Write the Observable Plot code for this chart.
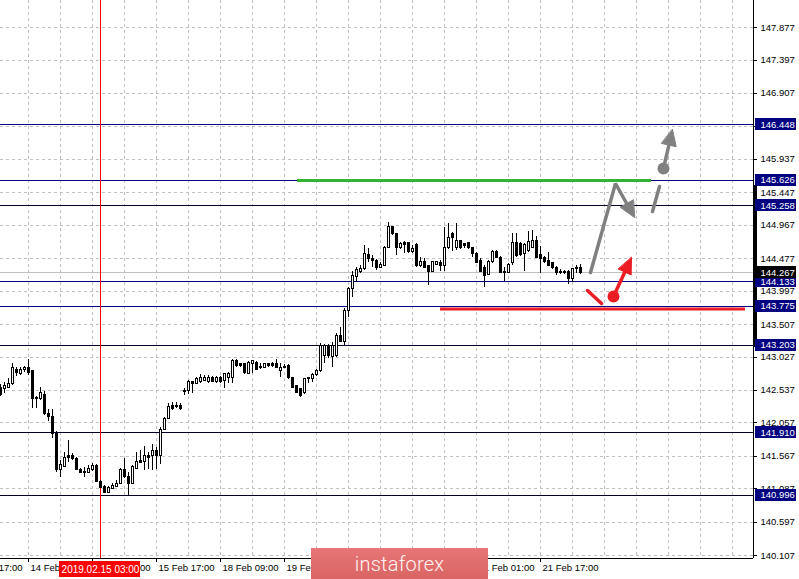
<!DOCTYPE html>
<html>
<head>
<meta charset="utf-8">
<script src="https://cdn.jsdelivr.net/npm/d3@7"></script>
<script src="https://cdn.jsdelivr.net/npm/@observablehq/plot@0.6"></script>
<style>
  html, body { margin: 0; padding: 0; background: #fff; }
  #wrap { position: relative; width: 799px; height: 579px; overflow: hidden; }
  #wrap svg { position: absolute; left: 0; top: 0; }
  #logo {
    position: absolute; left: 311px; top: 548px; width: 177px; height: 31px; z-index: 2;
    background: linear-gradient(#e87676, #d96464);
    color: #fff3f3; font: 300 20px Roboto, "Open Sans", sans-serif;
    display: flex; align-items: center; justify-content: center; letter-spacing: 0.2px;
  }
</style>
</head>
<body>
<div id="wrap"><div id="logo">instaforex</div></div>
<script>
// USDJPY H1, one candle per trading hour (bar 0 = 14 Feb 02:00)
const open = [
  142.579, 142.564, 142.579, 142.638, 142.844, 142.785, 142.844, 142.873, 142.815, 142.432,
  142.403, 142.476, 142.182, 142.152, 141.902, 141.358, 141.416, 141.564, 141.564, 141.534,
  141.372, 141.343, 141.328, 141.372, 141.431, 141.196, 141.122, 141.034, 141.093, 141.122,
  141.166, 141.372, 141.255, 141.166, 141.387, 141.505, 141.490, 141.578, 141.564, 141.652,
  141.578, 141.961, 142.123, 142.300, 142.300, 142.300, 142.535, 142.535, 142.653, 142.638,
  142.653, 142.682, 142.667, 142.712, 142.667, 142.712, 142.682, 142.726, 142.726, 142.962,
  142.918, 142.918, 142.785, 142.932, 142.947, 142.888, 142.873, 142.918, 142.918, 142.932,
  142.815, 142.888, 142.903, 142.726, 142.594, 142.550, 142.491, 142.697, 142.697, 142.756,
  142.815, 143.050, 143.197, 143.035, 143.050, 143.344, 143.256, 143.712, 144.036, 144.212,
  144.286, 144.316, 144.536, 144.477, 144.448, 144.345, 144.374, 144.639, 144.934, 144.831,
  144.639, 144.699, 144.699, 144.566, 144.670, 144.360, 144.419, 144.360, 144.286, 144.389,
  144.404, 144.374, 144.625, 144.845, 144.625, 144.728, 144.684, 144.699, 144.625, 144.551,
  144.448, 144.345, 144.242, 144.419, 144.566, 144.492, 144.286, 144.271, 144.404, 144.699,
  144.684, 144.551, 144.595, 144.639, 144.728, 144.536, 144.492, 144.448, 144.404, 144.345,
  144.257, 144.286, 144.286, 144.183, 144.345, 144.345
];
const high = [
  142.623, 142.653, 142.712, 142.932, 142.873, 142.873, 142.888, 142.991, 142.829, 142.447,
  142.579, 142.520, 142.255, 142.255, 141.932, 141.505, 141.623, 141.799, 141.608, 141.549,
  141.387, 141.402, 141.431, 141.461, 141.446, 141.211, 141.137, 141.122, 141.166, 141.211,
  141.387, 141.534, 141.328, 141.431, 141.623, 141.652, 141.711, 141.623, 141.740, 141.696,
  141.990, 142.138, 142.344, 142.358, 142.358, 142.344, 142.564, 142.682, 142.667, 142.726,
  142.770, 142.756, 142.756, 142.741, 142.741, 142.741, 142.785, 142.800, 142.991, 142.991,
  142.932, 142.932, 142.962, 142.976, 142.962, 142.932, 142.932, 142.932, 142.947, 142.991,
  142.932, 142.918, 142.918, 142.726, 142.609, 142.564, 142.712, 142.726, 142.785, 142.844,
  143.227, 143.212, 143.212, 143.241, 143.374, 143.462, 143.742, 144.051, 144.286, 144.345,
  144.374, 144.670, 144.625, 144.522, 144.463, 144.419, 144.655, 145.007, 144.948, 144.845,
  144.713, 144.728, 144.713, 144.670, 144.699, 144.492, 144.477, 144.374, 144.433, 144.433,
  144.448, 144.934, 144.993, 144.860, 144.993, 144.742, 144.699, 144.713, 144.639, 144.566,
  144.477, 144.374, 144.448, 144.595, 144.595, 144.507, 144.345, 144.404, 144.845, 144.845,
  144.713, 144.699, 144.875, 144.890, 144.801, 144.655, 144.507, 144.566, 144.419, 144.360,
  144.316, 144.301, 144.301, 144.330, 144.374, 144.389
];
const low = [
  142.447, 142.491, 142.564, 142.609, 142.741, 142.756, 142.800, 142.756, 142.270, 142.270,
  142.388, 142.167, 142.079, 141.829, 141.328, 141.255, 141.402, 141.475, 141.505, 141.358,
  141.314, 141.255, 141.314, 141.343, 141.181, 141.093, 141.019, 141.019, 141.078, 141.107,
  141.152, 141.240, 140.975, 141.152, 141.372, 141.461, 141.358, 141.372, 141.358, 141.372,
  141.446, 141.946, 142.108, 142.241, 142.270, 142.241, 142.461, 142.476, 142.491, 142.638,
  142.638, 142.667, 142.638, 142.653, 142.638, 142.638, 142.564, 142.638, 142.638, 142.873,
  142.873, 142.770, 142.770, 142.785, 142.829, 142.844, 142.859, 142.873, 142.873, 142.859,
  142.726, 142.859, 142.697, 142.564, 142.491, 142.432, 142.476, 142.638, 142.653, 142.741,
  142.800, 142.932, 143.006, 142.873, 143.021, 143.241, 143.197, 143.609, 143.904, 144.124,
  144.257, 144.301, 144.419, 144.345, 144.301, 144.330, 144.360, 144.625, 144.816, 144.522,
  144.610, 144.551, 144.551, 144.551, 144.345, 144.345, 144.330, 144.080, 144.271, 144.374,
  144.286, 144.286, 144.610, 144.580, 144.595, 144.610, 144.625, 144.610, 144.492, 144.404,
  144.271, 144.051, 144.227, 144.404, 144.477, 144.257, 144.139, 144.257, 144.374, 144.492,
  144.507, 144.286, 144.566, 144.625, 144.477, 144.257, 144.404, 144.360, 144.316, 144.227,
  144.242, 144.242, 144.095, 144.124, 144.257, 144.242
];
const close = [
  142.476, 142.594, 142.638, 142.859, 142.800, 142.844, 142.873, 142.800, 142.403, 142.403,
  142.491, 142.182, 142.152, 141.888, 141.358, 141.446, 141.549, 141.549, 141.534, 141.372,
  141.328, 141.328, 141.387, 141.431, 141.196, 141.107, 141.034, 141.107, 141.137, 141.166,
  141.372, 141.255, 141.166, 141.416, 141.490, 141.475, 141.578, 141.549, 141.652, 141.564,
  141.961, 142.123, 142.285, 142.270, 142.285, 142.270, 142.520, 142.653, 142.638, 142.697,
  142.712, 142.726, 142.712, 142.667, 142.712, 142.667, 142.785, 142.785, 142.962, 142.903,
  142.903, 142.800, 142.947, 142.962, 142.844, 142.873, 142.918, 142.903, 142.903, 142.873,
  142.873, 142.873, 142.726, 142.579, 142.491, 142.461, 142.697, 142.726, 142.756, 142.815,
  143.197, 143.197, 143.050, 143.197, 143.344, 143.256, 143.712, 144.036, 144.227, 144.301,
  144.330, 144.551, 144.463, 144.448, 144.345, 144.389, 144.639, 144.934, 144.831, 144.639,
  144.684, 144.670, 144.566, 144.610, 144.360, 144.419, 144.345, 144.286, 144.419, 144.419,
  144.374, 144.625, 144.772, 144.772, 144.742, 144.639, 144.655, 144.625, 144.551, 144.404,
  144.286, 144.227, 144.433, 144.566, 144.492, 144.257, 144.271, 144.389, 144.699, 144.507,
  144.522, 144.670, 144.713, 144.728, 144.492, 144.477, 144.419, 144.374, 144.345, 144.257,
  144.286, 144.257, 144.183, 144.316, 144.330, 144.267
];

// time axis: bar index of each label and its text
const timeTicks = [-9, 7, 23, 39, 55, 71, 87, 103, 119, 135];
const timeLabels = ["13 Feb 17:00", "14 Feb 09:00", "15 Feb 01:00", "15 Feb 17:00", "18 Feb 09:00",
                    "19 Feb 01:00", "19 Feb 17:00", "20 Feb 09:00", "21 Feb 01:00", "21 Feb 17:00"];
const cursorBar = 25;
const cursorLabel = "2019.02.15 03:00";

// price scale ticks
const priceTicks = [147.877, 147.397, 146.907, 146.417, 145.937, 145.447, 144.967, 144.477,
                    143.997, 143.507, 143.027, 142.537, 142.057, 141.567, 141.087, 140.597, 140.107];

// horizontal support / resistance levels
const levels = [146.448, 145.626, 145.258, 144.133, 143.775, 143.203, 141.910, 140.996];
const darkLevels = [145.258, 143.203, 141.910, 140.996];
const bid = close[close.length - 1];
const rangeMarker = [143.168, 145.552];

// trade idea drawings: [bar index, price]
const resistance = {from: 74.25, to: 162.75, price: 145.626};
const support = {from: 110, to: 186.25, price: 143.735};
const grayPath = [[147.5, 144.271], [153.75, 145.581], [158.5, 145.081]];
const grayDash = [[163, 145.169], [164.75, 145.537]];
const grayDot = [165.75, 145.802];
const grayTip = [168, 146.376];
const redDash = [[146.75, 144.006], [150.25, 143.815]];
const redDot = [153.25, 143.918];
const redTip = [157.75, 144.492];

// ---- layout ----
const W = 799, H = 579, marginRight = 46, marginBottom = 21;
const xDomain = [0, 188.25];
const yDomain = [140.063, 148.274];
// pixel mirrors of the plot scales, for things sized in pixels
const px = d3.scaleLinear(xDomain, [0, W - marginRight]);
const py = d3.scaleLinear(yDomain, [H - marginBottom, 0]);
const xAt = p => px.invert(p);
const yOff = (price, dp) => py.invert(py(price) + dp);

const bars = open.map((o, i) => ({i, open: o, high: high[i], low: low[i], close: close[i]}));

function arrow(points, len, half) {
  const a = points[points.length - 2], t = points[points.length - 1];
  const ax = px(a[0]), ay = py(a[1]), tx = px(t[0]), ty = py(t[1]);
  const L = Math.hypot(tx - ax, ty - ay), ux = (tx - ax) / L, uy = (ty - ay) / L;
  const bx = tx - ux * len, by = ty - uy * len;
  const back = (x, y) => [px.invert(x), py.invert(y)];
  return {
    shaft: points.slice(0, -1).concat([back(bx + ux * 2, by + uy * 2)]),
    head: [back(tx, ty), back(bx - uy * half, by + ux * half), back(bx + uy * half, by - ux * half)]
  };
}
const grayA = arrow(grayPath, 16, 7.5);
const grayB = arrow([grayDot, grayTip], 16, 7.5);
const redA = arrow([redDot, redTip], 16, 7);

const GRID = "#c0c0c0", NAVY = "#000080", DARK = "#000028";
const GRAY = "#808080", RED = "#ec1c24", GREEN = "#32b432";
const lineXY = {x: d => d[0], y: d => d[1]};
const crisp = {shapeRendering: "crispEdges"};

const chart = Plot.plot({
  width: W, height: H,
  marginLeft: 0, marginTop: 0, marginRight, marginBottom,
  x: {domain: xDomain, axis: null},
  y: {domain: yDomain, axis: null},
  style: {fontFamily: "'Liberation Sans', Arial, sans-serif", fontSize: "9.5px", background: "transparent", overflow: "visible"},
  marks: [
    // dashed grid
    Plot.ruleY(priceTicks, {stroke: GRID, strokeDasharray: "3,3", ...crisp}),
    Plot.ruleX(d3.range(7, 188, 8), {stroke: GRID, strokeDasharray: "3,3", ...crisp}),
    // bid line and levels
    Plot.ruleY([bid], {stroke: "#c0c0c0", ...crisp}),
    Plot.ruleY(levels, {stroke: d => darkLevels.includes(d) ? DARK : NAVY, ...crisp}),
    // cursor line
    Plot.ruleX([cursorBar], {stroke: "#ff0000", ...crisp}),
    // candles
    Plot.ruleX(bars, {x: "i", y1: "low", y2: "high", stroke: "black", ...crisp}),
    Plot.rect(bars, {filter: d => d.close >= d.open, x1: d => d.i - 0.25, x2: d => d.i + 0.25, y1: "open", y2: "close", fill: "white", stroke: "black", ...crisp}),
    Plot.rect(bars, {filter: d => d.close < d.open, x1: d => d.i - 0.25, x2: d => d.i + 0.25, y1: "open", y2: "close", fill: "black", stroke: "black", ...crisp}),
    // resistance / support drawings
    Plot.ruleY([resistance], {y: "price", x1: "from", x2: "to", stroke: GREEN, strokeWidth: 3}),
    Plot.ruleY([support], {y: "price", x1: "from", x2: "to", stroke: RED, strokeWidth: 3}),
    // scenario arrows
    Plot.line(grayA.shaft, {...lineXY, stroke: GRAY, strokeWidth: 3.5, strokeLinejoin: "miter"}),
    Plot.line(grayA.head, {...lineXY, curve: "linear-closed", fill: GRAY, stroke: GRAY, strokeWidth: 1}),
    Plot.line(grayDash, {...lineXY, stroke: GRAY, strokeWidth: 3.5}),
    Plot.line(grayB.shaft, {...lineXY, stroke: GRAY, strokeWidth: 3.5}),
    Plot.line(grayB.head, {...lineXY, curve: "linear-closed", fill: GRAY, stroke: GRAY, strokeWidth: 1}),
    Plot.dot([grayDot], {...lineXY, r: 6, fill: GRAY}),
    Plot.line(redDash, {...lineXY, stroke: RED, strokeWidth: 3.5}),
    Plot.line(redA.shaft, {...lineXY, stroke: RED, strokeWidth: 3.5}),
    Plot.line(redA.head, {...lineXY, curve: "linear-closed", fill: RED, stroke: RED, strokeWidth: 1}),
    Plot.dot([redDot], {...lineXY, r: 6, fill: RED}),
    // frame
    Plot.ruleX([xDomain[1]], {stroke: "black", ...crisp}),
    Plot.ruleY([yDomain[0]], {stroke: "black", ...crisp}),
    // price axis
    Plot.ruleY(priceTicks, {x1: xDomain[1], x2: xAt(757), stroke: "black", ...crisp}),
    Plot.text(priceTicks, {x: xAt(760), y: d => d, text: d => d.toFixed(3), textAnchor: "start", fill: "black"}),
    Plot.ruleX([xAt(754.5)], {y1: rangeMarker[0], y2: rangeMarker[1], stroke: "black", strokeWidth: 4, ...crisp}),
    Plot.rect(levels, {x1: xAt(755), x2: xAt(796), y1: d => yOff(d, -6), y2: d => yOff(d, 6), fill: NAVY, ...crisp}),
    Plot.text(levels, {x: xAt(760), y: d => d, text: d => d.toFixed(3), textAnchor: "start", fill: "white"}),
    Plot.rect([bid], {x1: xAt(755), x2: xAt(796), y1: d => yOff(d, -6), y2: d => yOff(d, 6), fill: "black", ...crisp}),
    Plot.text([bid], {x: xAt(760), y: d => d, text: d => d.toFixed(3), textAnchor: "start", fill: "white"}),
    // time axis
    Plot.ruleX(timeTicks, {y1: yDomain[0], y2: yOff(yDomain[0], 4), stroke: "black", ...crisp}),
    Plot.text(timeTicks, {x: d => d, y: yDomain[0], text: (d, i) => timeLabels[i], textAnchor: "start", dx: 2, dy: 9, fill: "black"}),
    Plot.rect([cursorBar], {x1: d => d - 10.25, x2: d => d + 10, y1: yOff(yDomain[0], 3), y2: yOff(yDomain[0], 19), fill: "#ff0000", ...crisp}),
    Plot.text([cursorBar], {x: d => d, y: yDomain[0], dy: 11, text: () => cursorLabel, fill: "white", fontSize: 10})
  ]
});
document.getElementById("wrap").prepend(chart);
</script>
</body>
</html>
